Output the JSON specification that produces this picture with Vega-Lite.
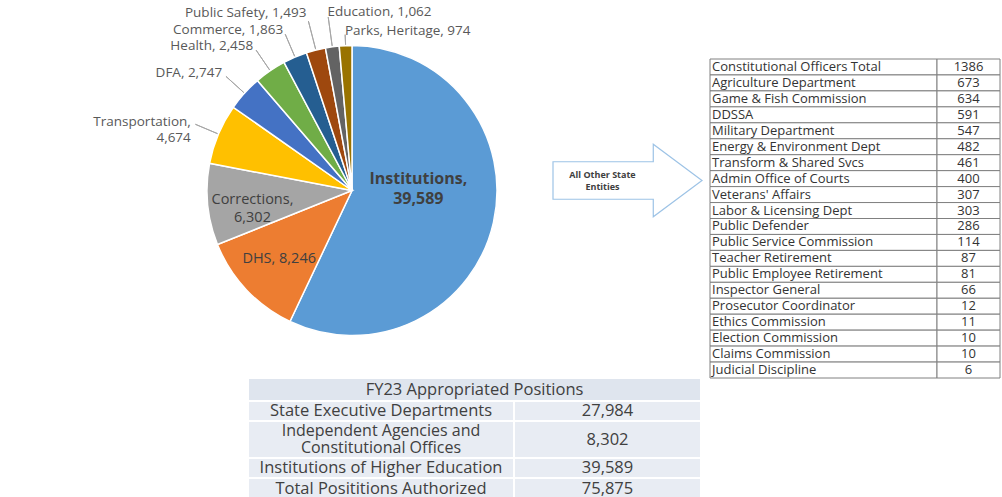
{
  "$schema": "https://vega.github.io/schema/vega-lite/v6.json",
  "padding": 0,
  "background": "#ffffff",
  "spacing": 0,
  "config": {"view": {"stroke": null}, "font": "Open Sans"},
  "datasets": {
    "pie": [
      {"name": "Institutions", "positions": 39589, "label": "Institutions,\n39,589"},
      {"name": "DHS", "positions": 8246, "label": "DHS, 8,246"},
      {"name": "Corrections", "positions": 6302, "label": "Corrections,\n6,302"},
      {"name": "Transportation", "positions": 4674, "label": "Transportation,\n4,674"},
      {"name": "DFA", "positions": 2747, "label": "DFA, 2,747"},
      {"name": "Health", "positions": 2458, "label": "Health, 2,458"},
      {"name": "Commerce", "positions": 1863, "label": "Commerce, 1,863"},
      {"name": "Public Safety", "positions": 1493, "label": "Public Safety, 1,493"},
      {"name": "Education", "positions": 1062, "label": "Education, 1,062"},
      {"name": "Parks, Heritage", "positions": 974, "label": "Parks, Heritage, 974"}
    ],
    "others": [
      {"entity": "Constitutional Officers Total", "positions": 1386},
      {"entity": "Agriculture Department", "positions": 673},
      {"entity": "Game & Fish Commission", "positions": 634},
      {"entity": "DDSSA", "positions": 591},
      {"entity": "Military Department", "positions": 547},
      {"entity": "Energy & Environment Dept", "positions": 482},
      {"entity": "Transform & Shared Svcs", "positions": 461},
      {"entity": "Admin Office of Courts", "positions": 400},
      {"entity": "Veterans' Affairs", "positions": 307},
      {"entity": "Labor & Licensing Dept", "positions": 303},
      {"entity": "Public Defender", "positions": 286},
      {"entity": "Public Service Commission", "positions": 114},
      {"entity": "Teacher Retirement", "positions": 87},
      {"entity": "Public Employee Retirement", "positions": 81},
      {"entity": "Inspector General", "positions": 66},
      {"entity": "Prosecutor Coordinator", "positions": 12},
      {"entity": "Ethics Commission", "positions": 11},
      {"entity": "Election Commission", "positions": 10},
      {"entity": "Claims Commission", "positions": 10},
      {"entity": "Judicial Discipline", "positions": 6}
    ],
    "summary": [
      {"row": "State Executive Departments", "positions": 27984},
      {"row": "Independent Agencies and\nConstitutional Offices", "positions": 8302},
      {"row": "Institutions of Higher Education", "positions": 39589},
      {"row": "Total Posititions Authorized", "positions": 75875}
    ]
  },
  "vconcat": [
    {
      "bounds": "flush",
      "spacing": 0,
      "hconcat": [
        {"width": 151, "height": 377, "data": {"values": []}, "mark": "point", "encoding": {}},
        {
          "width": 402,
          "height": 377,
          "data": {"name": "pie"},
          "encoding": {
            "theta": {"field": "positions", "type": "quantitative", "stack": true},
            "order": {"field": "positions", "type": "quantitative", "sort": "descending"},
            "detail": {"field": "name", "type": "nominal"}
          },
          "layer": [
            {
              "mark": {"type": "arc", "outerRadius": 145, "stroke": "#ffffff", "strokeWidth": 1.5},
              "encoding": {
                "color": {
                  "field": "name", "type": "nominal", "legend": null,
                  "scale": {
                    "domain": ["Institutions", "DHS", "Corrections", "Transportation", "DFA", "Health", "Commerce", "Public Safety", "Education", "Parks, Heritage"],
                    "range": ["#5b9bd5", "#ed7d31", "#a5a5a5", "#ffc000", "#4472c4", "#70ad47", "#255e91", "#9e480e", "#636363", "#997300"]
                  }
                }
              }
            },
            {
              "mark": {"type": "arc", "innerRadius": 146, "outerRadius": 170, "padAngle": 1.2, "filled": false, "stroke": "#a6a6a6", "strokeWidth": 1},
              "encoding": {"strokeOpacity": {"condition": {"test": "indexof(['Transportation','DFA','Health','Commerce'], datum.name) >= 0", "value": 1}, "value": 0}}
            },
            {
              "mark": {"type": "arc", "innerRadius": 146, "outerRadius": 175, "padAngle": 1.2, "filled": false, "stroke": "#a6a6a6", "strokeWidth": 1},
              "encoding": {"strokeOpacity": {"condition": {"test": "indexof(['Public Safety','Education'], datum.name) >= 0", "value": 1}, "value": 0}}
            },
            {
              "mark": {"type": "arc", "innerRadius": 146, "outerRadius": 156, "padAngle": 1.2, "filled": false, "stroke": "#a6a6a6", "strokeWidth": 1},
              "encoding": {"strokeOpacity": {"condition": {"test": "datum.name === 'Parks, Heritage'", "value": 1}, "value": 0}}
            },
            {
              "mark": {"type": "text", "radius": 68, "dy": -26, "fontSize": 16, "fontWeight": "bold", "color": "#404040", "lineBreak": "\n", "lineHeight": 20, "baseline": "middle"},
              "encoding": {"text": {"condition": {"test": "datum.name === 'Institutions'", "field": "label", "type": "nominal"}, "value": ""}}
            },
            {
              "mark": {"type": "text", "radius": 100, "fontSize": 14.5, "color": "#404040", "lineBreak": "\n", "lineHeight": 18, "baseline": "middle"},
              "encoding": {"text": {"condition": {"test": "indexof(['DHS','Corrections'], datum.name) >= 0", "field": "label", "type": "nominal"}, "value": ""}}
            },
            {
              "mark": {"type": "text", "radius": 175, "align": "right", "fontSize": 13.5, "color": "#595959", "lineBreak": "\n", "lineHeight": 16, "baseline": "middle"},
              "encoding": {"text": {"condition": {"test": "indexof(['Transportation','DFA','Health','Commerce'], datum.name) >= 0", "field": "label", "type": "nominal"}, "value": ""}}
            },
            {
              "mark": {"type": "text", "radius": 183, "align": "right", "fontSize": 13.5, "color": "#595959", "baseline": "middle"},
              "encoding": {"text": {"condition": {"test": "datum.name === 'Public Safety'", "field": "label", "type": "nominal"}, "value": ""}}
            },
            {
              "mark": {"type": "text", "radius": 180, "align": "left", "fontSize": 13.5, "color": "#595959", "baseline": "middle"},
              "encoding": {"text": {"condition": {"test": "datum.name === 'Education'", "field": "label", "type": "nominal"}, "value": ""}}
            },
            {
              "mark": {"type": "text", "radius": 160, "align": "left", "fontSize": 13.5, "color": "#595959", "baseline": "middle"},
              "encoding": {"text": {"condition": {"test": "datum.name === 'Parks, Heritage'", "field": "label", "type": "nominal"}, "value": ""}}
            }
          ]
        },
        {
          "width": 149,
          "height": 357,
          "data": {"values": [{"shape": "arrow"}]},
          "layer": [
            {
              "mark": {"type": "point", "shape": "M-1,-0.252L0.346,-0.252L0.346,-0.486L1,0L0.346,0.486L0.346,0.252L-1,0.252Z", "size": 22201, "filled": true, "fill": "#ffffff", "stroke": "#9dc3e6", "strokeWidth": 1.2, "opacity": 1, "fillOpacity": 1},
              "encoding": {}
            },
            {
              "mark": {"type": "text", "text": ["All Other State", "Entities"], "fontSize": 9, "fontWeight": "bold", "color": "#404040", "dx": -25, "dy": -6, "lineHeight": 12, "baseline": "middle"},
              "encoding": {}
            }
          ]
        },
        {"width": 8, "height": 10, "data": {"values": []}, "mark": "point", "encoding": {}},
        {
          "bounds": "flush",
          "spacing": 0,
          "vconcat": [
            {"width": 290, "height": 57, "data": {"values": []}, "mark": "point", "encoding": {}},
            {
              "bounds": "flush",
              "spacing": 0,
              "hconcat": [
                {
                  "width": 227,
                  "height": 319,
                  "data": {"name": "others"},
                  "encoding": {"y": {"field": "entity", "type": "nominal", "sort": null, "axis": null, "scale": {"paddingInner": 0, "paddingOuter": 0}}},
                  "layer": [
                    {"mark": {"type": "rect", "fill": "#ffffff", "stroke": "#808080", "strokeWidth": 1}},
                    {"mark": {"type": "text", "align": "left", "dx": 2, "fontSize": 13, "color": "#333333"}, "encoding": {"x": {"value": 0}, "text": {"field": "entity", "type": "nominal"}}}
                  ]
                },
                {
                  "width": 63,
                  "height": 319,
                  "data": {"name": "others"},
                  "encoding": {"y": {"field": "entity", "type": "nominal", "sort": null, "axis": null, "scale": {"paddingInner": 0, "paddingOuter": 0}}},
                  "layer": [
                    {"mark": {"type": "rect", "fill": "#ffffff", "stroke": "#808080", "strokeWidth": 1}},
                    {"mark": {"type": "text", "fontSize": 13, "color": "#333333"}, "encoding": {"text": {"field": "positions", "type": "quantitative", "format": "d"}}}
                  ]
                }
              ]
            }
          ]
        }
      ]
    },
    {
      "bounds": "flush",
      "spacing": 0,
      "hconcat": [
        {"width": 249, "height": 120, "data": {"values": []}, "mark": "point", "encoding": {}},
        {
          "spacing": 2,
          "vconcat": [
            {
              "width": 451, "height": 21,
              "view": {"fill": "#dfe5ee"},
              "data": {"values": [{"title": "FY23 Appropriated Positions"}]},
              "mark": {"type": "text", "fontSize": 16.5, "color": "#404040"},
              "encoding": {"text": {"field": "title", "type": "nominal"}}
            },
            {
              "bounds": "flush", "spacing": 2,
              "hconcat": [
                {"width": 264, "height": 18, "view": {"fill": "#e8ecf3"}, "data": {"name": "summary"}, "transform": [{"filter": {"field": "positions", "equal": 27984}}], "mark": {"type": "text", "fontSize": 16.5, "color": "#404040"}, "encoding": {"text": {"field": "row", "type": "nominal"}}},
                {"width": 185, "height": 18, "view": {"fill": "#e8ecf3"}, "data": {"name": "summary"}, "transform": [{"filter": {"field": "positions", "equal": 27984}}], "mark": {"type": "text", "fontSize": 16.5, "color": "#404040"}, "encoding": {"text": {"field": "positions", "type": "quantitative", "format": ","}}}
              ]
            },
            {
              "bounds": "flush", "spacing": 2,
              "hconcat": [
                {"width": 264, "height": 35, "view": {"fill": "#e8ecf3"}, "data": {"name": "summary"}, "transform": [{"filter": {"field": "positions", "equal": 8302}}], "mark": {"type": "text", "fontSize": 16, "color": "#404040", "lineBreak": "\n", "lineHeight": 17, "dy": -8.5}, "encoding": {"text": {"field": "row", "type": "nominal"}}},
                {"width": 185, "height": 35, "view": {"fill": "#e8ecf3"}, "data": {"name": "summary"}, "transform": [{"filter": {"field": "positions", "equal": 8302}}], "mark": {"type": "text", "fontSize": 16.5, "color": "#404040"}, "encoding": {"text": {"field": "positions", "type": "quantitative", "format": ","}}}
              ]
            },
            {
              "bounds": "flush", "spacing": 2,
              "hconcat": [
                {"width": 264, "height": 18, "view": {"fill": "#e8ecf3"}, "data": {"name": "summary"}, "transform": [{"filter": {"field": "positions", "equal": 39589}}], "mark": {"type": "text", "fontSize": 16.5, "color": "#404040"}, "encoding": {"text": {"field": "row", "type": "nominal"}}},
                {"width": 185, "height": 18, "view": {"fill": "#e8ecf3"}, "data": {"name": "summary"}, "transform": [{"filter": {"field": "positions", "equal": 39589}}], "mark": {"type": "text", "fontSize": 16.5, "color": "#404040"}, "encoding": {"text": {"field": "positions", "type": "quantitative", "format": ","}}}
              ]
            },
            {
              "bounds": "flush", "spacing": 2,
              "hconcat": [
                {"width": 264, "height": 20, "view": {"fill": "#e8ecf3"}, "data": {"name": "summary"}, "transform": [{"filter": {"field": "positions", "equal": 75875}}], "mark": {"type": "text", "fontSize": 16.5, "color": "#404040"}, "encoding": {"text": {"field": "row", "type": "nominal"}}},
                {"width": 185, "height": 20, "view": {"fill": "#e8ecf3"}, "data": {"name": "summary"}, "transform": [{"filter": {"field": "positions", "equal": 75875}}], "mark": {"type": "text", "fontSize": 16.5, "color": "#404040"}, "encoding": {"text": {"field": "positions", "type": "quantitative", "format": ","}}}
              ]
            }
          ]
        }
      ]
    }
  ]
}
